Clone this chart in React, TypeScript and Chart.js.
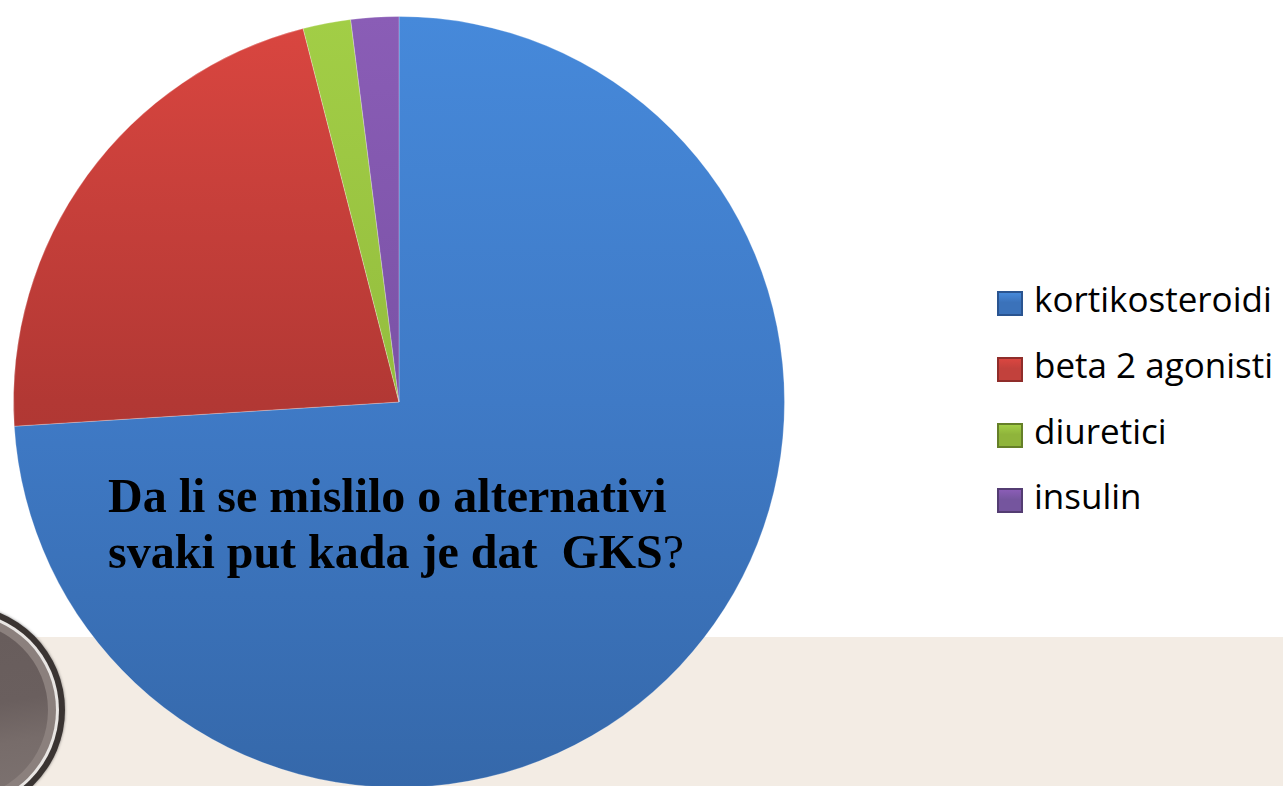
import React, { useEffect, useRef } from "react";
import { Chart, registerables } from "chart.js";

Chart.register(...registerables);

const categories = ["kortikosteroidi", "beta 2 agonisti", "diuretici", "insulin"];
const counts = [37, 11, 1, 1];
const topColors = ["#4689da", "#da4640", "#a2ce46", "#8a5db6"];
const midColors = ["#3f7ac6", "#b23834", "#94bd3e", "#7a52a6"];
const bottomColors = ["#3568aa", "#9a302d", "#86ad35", "#6e4a96"];
const legendColors = ["#3b72ba", "#c2413c", "#8fb43b", "#75559e"];
const legendBorders = ["#2a5490", "#8f2d2a", "#657f28", "#533c72"];
const titleLine1 = "Da li se mislilo o alternativi";
const titleLine2 = "svaki put kada je dat\u00a0\u00a0GKS";

export default function App() {
  const canvasRef = useRef<HTMLCanvasElement | null>(null);

  useEffect(() => {
    const canvas = canvasRef.current;
    if (!canvas) return;
    const chart = new Chart(canvas, {
      type: "pie",
      data: {
        labels: categories,
        datasets: [
          {
            data: counts,
            backgroundColor: (ctx: any) => {
              const ch = ctx.chart;
              const area = ch.chartArea;
              const i = ctx.dataIndex;
              if (!area) return topColors[i];
              const g = ch.ctx.createLinearGradient(0, area.top, 0, area.bottom);
              g.addColorStop(0, topColors[i]);
              g.addColorStop(0.5, midColors[i]);
              g.addColorStop(1, bottomColors[i]);
              return g;
            },
            borderColor: "rgba(255,255,255,0.25)",
            borderWidth: 1,
          },
        ],
      },
      options: {
        responsive: false,
        animation: false,
        layout: { padding: { left: 13, top: 16, right: 15, bottom: 12 } },
        plugins: {
          legend: { display: false },
          tooltip: { enabled: false },
        },
      },
    });
    return () => chart.destroy();
  }, []);

  const legendBaselines = [315, 381, 447, 512];

  return (
    <div
      style={{
        position: "fixed",
        left: 0,
        top: 0,
        width: 1283,
        height: 786,
        overflow: "hidden",
        background: "#ffffff",
      }}
    >
      <div
        style={{
          position: "absolute",
          left: 0,
          top: 637,
          width: 1283,
          height: 149,
          background: "#f3ece4",
        }}
      />
      {/* decorative disc, bottom left */}
      <div
        style={{
          position: "absolute",
          left: -40 - 105,
          top: 710 - 105,
          width: 210,
          height: 210,
          borderRadius: "50%",
          background: "#3a3432",
          boxShadow: "0 0 3px rgba(0,0,0,0.5)",
        }}
      >
        <div
          style={{
            position: "absolute",
            left: 6,
            top: 6,
            width: 198,
            height: 198,
            borderRadius: "50%",
            background: "#e9e6e4",
          }}
        >
          <div
            style={{
              position: "absolute",
              left: 3,
              top: 3,
              width: 192,
              height: 192,
              borderRadius: "50%",
              background: "#8b807d",
            }}
          >
            <div
              style={{
                position: "absolute",
                left: 8,
                top: 8,
                width: 176,
                height: 176,
                borderRadius: "50%",
                background: "linear-gradient(170deg, #675c5b 0%, #6a5f5e 50%, #776c6a 70%, #7d7371 100%)",
              }}
            />
          </div>
        </div>
      </div>
      <canvas
        ref={canvasRef}
        width={800}
        height={800}
        style={{ position: "absolute", left: 0, top: 0, width: 800, height: 800 }}
      />
      <div
        style={{
          position: "absolute",
          left: 108,
          top: 468,
          font: "bold 48px 'Liberation Serif', 'Times New Roman', serif",
          lineHeight: "56px",
          color: "#000",
          whiteSpace: "nowrap",
        }}
      >
        <div>{titleLine1}</div>
        <div>
          {titleLine2}
          <span style={{ fontWeight: "normal" }}>?</span>
        </div>
      </div>
      {categories.map((c, i) => (
        <React.Fragment key={c}>
          <div
            style={{
              position: "absolute",
              left: 997,
              top: legendBaselines[i] - 24,
              width: 22,
              height: 21,
              border: `2px solid ${legendBorders[i]}`,
              background: `linear-gradient(180deg, ${topColors[i]} 0%, ${legendColors[i]} 45%, ${legendColors[i]} 100%)`,
            }}
          />
          <div
            style={{
              position: "absolute",
              left: 1034,
              top: legendBaselines[i] - 41,
              font: "35px 'Open Sans', sans-serif",
              lineHeight: "50px",
              color: "#000",
              whiteSpace: "nowrap",
            }}
          >
            {c}
          </div>
        </React.Fragment>
      ))}
    </div>
  );
}
